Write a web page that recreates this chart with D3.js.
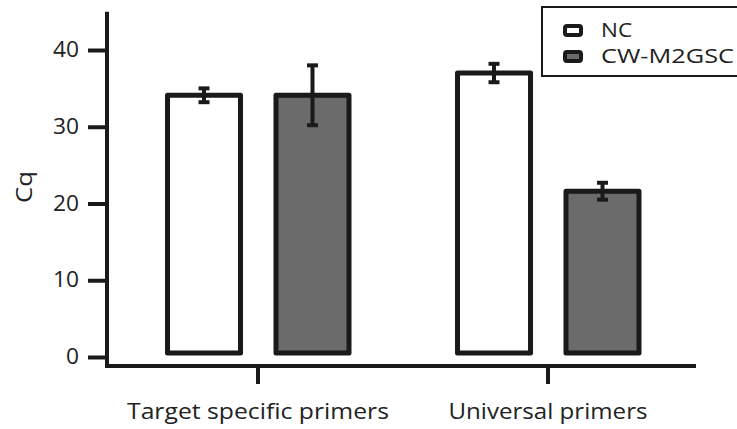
<!DOCTYPE html>
<html>
<head>
<meta charset="utf-8">
<script src="https://cdn.jsdelivr.net/npm/d3@7"></script>
<style>
  body { margin: 0; background: #fff; }
  text { font-family: "Open Sans", "Noto Sans", sans-serif; fill: #222; }
</style>
</head>
<body>
<svg width="737" height="429"></svg>
<script>
const groups = ['Target specific primers', 'Universal primers'];
const series = ['NC', 'CW-M2GSC'];
const seriesFill = ['#ffffff', '#6b6b6b'];
const ncValues = [34.1, 37.0];
const ncErrors = [0.9, 1.2];
const cwValues = [34.1, 21.6];
const cwErrors = [3.9, 1.1];
const yTicks = [0, 10, 20, 30, 40];

const ink = '#1a1a1a';
const svg = d3.select('svg');

const y = d3.scaleLinear().domain([0, 40]).range([357, 50]);
const x0 = d3.scaleBand().domain(groups).range([113, 693]);
const x1 = d3.scaleBand().domain(series).range([54.5, 236]).paddingInner(0.327);
const axisY = 366;
// the source figure's type is wider than any local font, so stretch to its widths
const groupLabelWidth = [262, 199];
const legendLabelWidth = [31, 133];

const rows = [];
groups.forEach((g, i) => {
  rows.push({group: g, key: series[0], v: ncValues[i], e: ncErrors[i], fill: seriesFill[0]});
  rows.push({group: g, key: series[1], v: cwValues[i], e: cwErrors[i], fill: seriesFill[1]});
});

// y axis
const yAxis = svg.append('g')
    .attr('transform', 'translate(107,0)')
    .call(d3.axisLeft(y).tickValues(yTicks).tickSize(19).tickPadding(9).tickSizeOuter(0));
yAxis.select('.domain').remove();
yAxis.selectAll('.tick line').attr('stroke', ink).attr('stroke-width', 4);
yAxis.selectAll('.tick text')
    .attr('font-size', 21)
    .attr('font-family', '"Open Sans", sans-serif')
    .attr('textLength', (d) => String(d).length * 13)
    .attr('lengthAdjust', 'spacingAndGlyphs')
    .style('fill', '#222');

svg.append('line')
    .attr('x1', 107).attr('x2', 107)
    .attr('y1', y(45)).attr('y2', axisY + 2)
    .attr('stroke', ink).attr('stroke-width', 4);

// x axis
svg.append('line')
    .attr('x1', 105).attr('x2', 696)
    .attr('y1', axisY).attr('y2', axisY)
    .attr('stroke', ink).attr('stroke-width', 4);

const xg = svg.append('g').selectAll('g')
    .data(groups).enter()
    .append('g')
    .attr('transform', (d) => `translate(${x0(d) + x0.bandwidth() / 2},0)`);
xg.append('line')
    .attr('y1', axisY).attr('y2', axisY + 18)
    .attr('stroke', ink).attr('stroke-width', 4);
xg.append('text')
    .attr('y', 419)
    .attr('text-anchor', 'middle')
    .attr('font-size', 22)
    .attr('textLength', (d, i) => groupLabelWidth[i])
    .attr('lengthAdjust', 'spacingAndGlyphs')
    .text((d) => d);

// bars
const bars = svg.append('g').selectAll('g')
    .data(rows).enter()
    .append('g')
    .attr('transform', (d) => `translate(${x0(d.group) + x1(d.key)},0)`);

bars.append('rect')
    .attr('x', 0)
    .attr('width', x1.bandwidth())
    .attr('y', (d) => y(d.v))
    .attr('height', (d) => y(0) - 4 - y(d.v))
    .attr('fill', (d) => d.fill)
    .attr('stroke', ink)
    .attr('stroke-width', 5)
    .attr('stroke-linejoin', 'round');

const cx = x1.bandwidth() / 2;
bars.append('line')
    .attr('x1', cx).attr('x2', cx)
    .attr('y1', (d) => y(d.v + d.e)).attr('y2', (d) => y(d.v - d.e))
    .attr('stroke', ink).attr('stroke-width', 4);
bars.append('line')
    .attr('x1', cx - 5.5).attr('x2', cx + 5.5)
    .attr('y1', (d) => y(d.v + d.e)).attr('y2', (d) => y(d.v + d.e))
    .attr('stroke', ink).attr('stroke-width', 4);
bars.append('line')
    .attr('x1', cx - 5.5).attr('x2', cx + 5.5)
    .attr('y1', (d) => y(d.v - d.e)).attr('y2', (d) => y(d.v - d.e))
    .attr('stroke', ink).attr('stroke-width', 4);

// y label
svg.append('text')
    .attr('transform', 'translate(32,187) rotate(-90)')
    .attr('text-anchor', 'middle')
    .attr('font-size', 22)
    .attr('textLength', 32)
    .attr('lengthAdjust', 'spacingAndGlyphs')
    .text('Cq');

// legend
const legend = svg.append('g');
legend.append('rect')
    .attr('x', 542).attr('y', 7)
    .attr('width', 210).attr('height', 69)
    .attr('fill', '#fff')
    .attr('stroke', ink).attr('stroke-width', 2);
const li = legend.selectAll('g.item')
    .data(series).enter()
    .append('g')
    .attr('class', 'item')
    .attr('transform', (d, i) => `translate(563,${24 + i * 26})`);
li.append('rect')
    .attr('x', 2).attr('y', 2)
    .attr('width', 16).attr('height', 9)
    .attr('rx', 2)
    .attr('fill', (d, i) => seriesFill[i])
    .attr('stroke', ink).attr('stroke-width', 4);
li.append('text')
    .attr('x', 38).attr('y', 13)
    .attr('font-size', 20)
    .attr('textLength', (d, i) => legendLabelWidth[i])
    .attr('lengthAdjust', 'spacingAndGlyphs')
    .text((d) => d);
</script>
</body>
</html>
